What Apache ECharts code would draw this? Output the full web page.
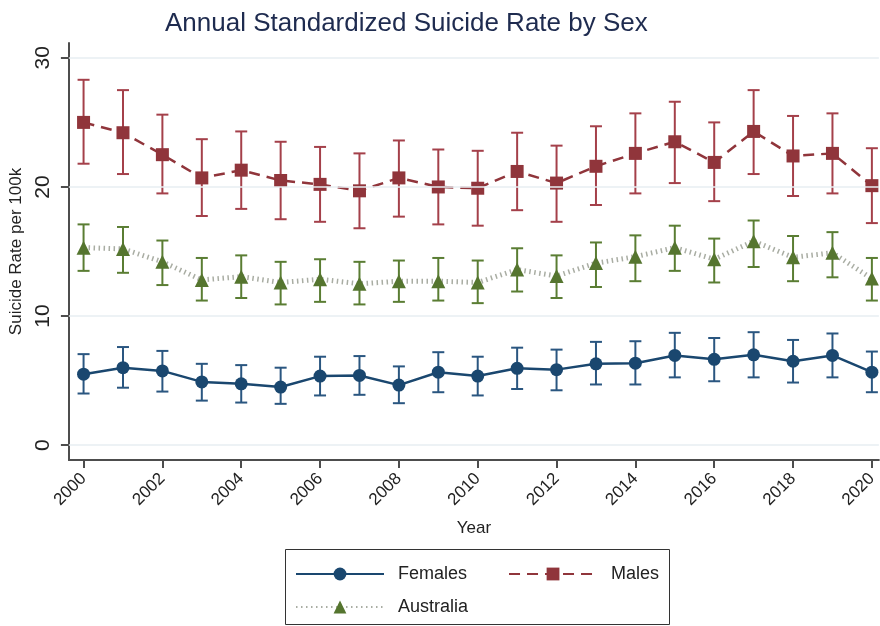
<!DOCTYPE html>
<html>
<head>
<meta charset="utf-8">
<title>Annual Standardized Suicide Rate by Sex</title>
<script src="https://cdn.jsdelivr.net/npm/echarts@6/dist/echarts.min.js"></script>
<style>
  html, body { margin: 0; padding: 0; background: #fff; }
  #chart { width: 880px; height: 626px; }
</style>
</head>
<body>
<div id="chart"></div>
<script>
// Annual standardized suicide rate (per 100k) with 95% CI

const years = [2000, 2001, 2002, 2003, 2004, 2005, 2006, 2007, 2008, 2009, 2010,
  2011, 2012, 2013, 2014, 2015, 2016, 2017, 2018, 2019, 2020];
const xTicks = [2000, 2002, 2004, 2006, 2008, 2010, 2012, 2014, 2016, 2018, 2020];
const yTicks = [0, 10, 20, 30];

const femalesRate = [5.5, 6.0, 5.75, 4.9, 4.75, 4.5, 5.35, 5.4, 4.65, 5.65, 5.35,
  5.95, 5.85, 6.3, 6.35, 6.95, 6.65, 7.0, 6.5, 6.95, 5.65];
const femalesLow = [4.0, 4.45, 4.15, 3.45, 3.3, 3.2, 3.85, 3.9, 3.25, 4.1, 3.85,
  4.35, 4.25, 4.7, 4.7, 5.25, 4.95, 5.25, 4.85, 5.25, 4.1];
const femalesHigh = [7.05, 7.6, 7.3, 6.3, 6.2, 6.0, 6.85, 6.9, 6.1, 7.2, 6.85,
  7.55, 7.4, 8.0, 8.05, 8.7, 8.3, 8.75, 8.15, 8.65, 7.25];

const malesRate = [25.0, 24.2, 22.5, 20.7, 21.3, 20.5, 20.2, 19.7, 20.7, 20.0, 19.9,
  21.2, 20.3, 21.6, 22.6, 23.5, 21.9, 24.3, 22.4, 22.6, 20.1];
const malesLow = [21.8, 21.0, 19.5, 17.75, 18.3, 17.5, 17.3, 16.8, 17.7, 17.1, 17.0,
  18.2, 17.3, 18.6, 19.5, 20.3, 18.9, 21.0, 19.3, 19.5, 17.2];
const malesHigh = [28.3, 27.5, 25.6, 23.7, 24.3, 23.5, 23.1, 22.6, 23.6, 22.9, 22.8,
  24.2, 23.2, 24.7, 25.7, 26.6, 25.0, 27.5, 25.5, 25.7, 23.0];

const australiaRate = [15.3, 15.2, 14.2, 12.8, 13.05, 12.6, 12.85, 12.5, 12.7, 12.7, 12.6,
  13.6, 13.1, 14.1, 14.6, 15.3, 14.4, 15.8, 14.55, 14.9, 12.9];
const australiaLow = [13.5, 13.35, 12.4, 11.2, 11.4, 10.9, 11.1, 10.9, 11.1, 11.2, 11.0,
  11.9, 11.4, 12.25, 12.7, 13.5, 12.6, 13.8, 12.7, 13.0, 11.2];
const australiaHigh = [17.1, 16.9, 15.85, 14.5, 14.7, 14.2, 14.4, 14.2, 14.3, 14.5, 14.3,
  15.25, 14.7, 15.7, 16.25, 17.0, 16.0, 17.4, 16.2, 16.5, 14.5];

const FONT = 'Liberation Sans, Arial, Helvetica, sans-serif';
const NAVY = '#1a476f';
const MAROON = '#90353b';
const GREEN = '#55752f';

// capped error bars, drawn through the axes
function errorBars(name, low, high, color) {
  return {
    type: 'custom',
    name: name,
    silent: true,
    z: 2,
    data: years.map((y, i) => [y, low[i], high[i]]),
    encode: { x: 0, y: [1, 2] },
    renderItem(params, api) {
      const x = api.value(0);
      const lo = api.coord([x, api.value(1)]);
      const hi = api.coord([x, api.value(2)]);
      const w = 6;
      const style = { stroke: color, lineWidth: 2 };
      return {
        type: 'group',
        children: [
          { type: 'line', shape: { x1: lo[0], y1: lo[1], x2: hi[0], y2: hi[1] }, style },
          { type: 'line', shape: { x1: lo[0] - w, y1: lo[1], x2: lo[0] + w, y2: lo[1] }, style },
          { type: 'line', shape: { x1: hi[0] - w, y1: hi[1], x2: hi[0] + w, y2: hi[1] }, style }
        ]
      };
    }
  };
}

function pointLine(name, values, color, symbol, size, lineStyle) {
  return {
    type: 'line',
    name: name,
    z: 3,
    data: years.map((y, i) => [y, values[i]]),
    symbol: symbol,
    symbolSize: size,
    showSymbol: true,
    lineStyle: lineStyle,
    itemStyle: { color: color, borderWidth: 0 },
    emphasis: { disabled: true },
    animation: false
  };
}

const chart = echarts.init(document.getElementById('chart'), null, { renderer: 'canvas' });

chart.setOption({
  backgroundColor: '#fff',
  animation: false,
  title: {
    text: 'Annual Standardized Suicide Rate by Sex',
    left: 165,
    top: 11,
    padding: 0,
    textStyle: { fontFamily: FONT, fontSize: 26, fontWeight: 'normal', color: '#1e2b4f' }
  },
  legend: [
    {
      data: ['Females', 'Males'],
      left: 295,
      top: 565,
      padding: 0,
      itemWidth: 88,
      itemHeight: 16,
      itemGap: 41,
      selectedMode: false,
      textStyle: { fontFamily: FONT, fontSize: 18, color: '#222', padding: [0, 0, 0, 9] }
    },
    {
      data: ['Australia'],
      left: 295,
      top: 598,
      padding: 0,
      itemWidth: 88,
      itemHeight: 16,
      selectedMode: false,
      textStyle: { fontFamily: FONT, fontSize: 18, color: '#222', padding: [0, 0, 0, 9] }
    }
  ],
  graphic: [
    {
      type: 'rect',
      shape: { x: 285.5, y: 549.5, width: 384, height: 75 },
      style: { fill: 'none', stroke: '#333', lineWidth: 1 },
      silent: true
    }
  ],
  grid: { left: 68, right: 0, top: 43, bottom: 166, containLabel: false },
  xAxis: {
    type: 'value',
    min: 1999.628,
    max: 2020.177,
    name: 'Year',
    nameLocation: 'middle',
    nameGap: 60,
    nameTextStyle: { fontFamily: FONT, fontSize: 17, color: '#222' },
    axisLine: { show: true, onZero: false, lineStyle: { color: '#4d4d4d', width: 2 } },
    axisTick: { show: true, length: 8, customValues: xTicks, lineStyle: { color: '#4d4d4d', width: 2 } },
    axisLabel: {
      customValues: xTicks,
      rotate: 45,
      margin: 16,
      fontFamily: FONT,
      fontSize: 17,
      color: '#222',
      formatter: v => String(v)
    },
    splitLine: { show: false }
  },
  yAxis: {
    type: 'value',
    min: -1.15,
    max: 31.15,
    name: 'Suicide Rate per 100k',
    nameLocation: 'middle',
    nameRotate: 90,
    nameGap: 40,
    nameTextStyle: { fontFamily: FONT, fontSize: 17, color: '#222' },
    axisLine: { show: true, onZero: false, lineStyle: { color: '#4d4d4d', width: 2 } },
    axisTick: { show: true, length: 8, customValues: yTicks, lineStyle: { color: '#4d4d4d', width: 2 } },
    axisLabel: {
      customValues: yTicks,
      rotate: 90,
      margin: 15,
      fontFamily: FONT,
      fontSize: 21,
      color: '#222',
      formatter: v => String(v)
    },
    splitLine: { show: false }
  },
  series: [
    {
      type: 'line',
      name: 'grid',
      data: [],
      z: 0,
      silent: true,
      markLine: {
        silent: true,
        symbol: 'none',
        label: { show: false },
        animation: false,
        lineStyle: { color: '#e7eef2', width: 1.5, type: 'solid' },
        data: yTicks.map(v => ({ yAxis: v }))
      }
    },
    errorBars('Females CI', femalesLow, femalesHigh, '#2a5680'),
    errorBars('Males CI', malesLow, malesHigh, '#a4404a'),
    errorBars('Australia CI', australiaLow, australiaHigh, '#5a7d33'),
    pointLine('Australia', australiaRate, GREEN, 'triangle', 14,
      { color: '#a9ada3', width: 5, type: [1.5, 3.5] }),
    pointLine('Females', femalesRate, NAVY, 'circle', 13,
      { color: NAVY, width: 2.5, type: 'solid' }),
    pointLine('Males', malesRate, MAROON, 'rect', 13,
      { color: MAROON, width: 2.5, type: [11, 7] })
  ]
});
</script>
</body>
</html>
